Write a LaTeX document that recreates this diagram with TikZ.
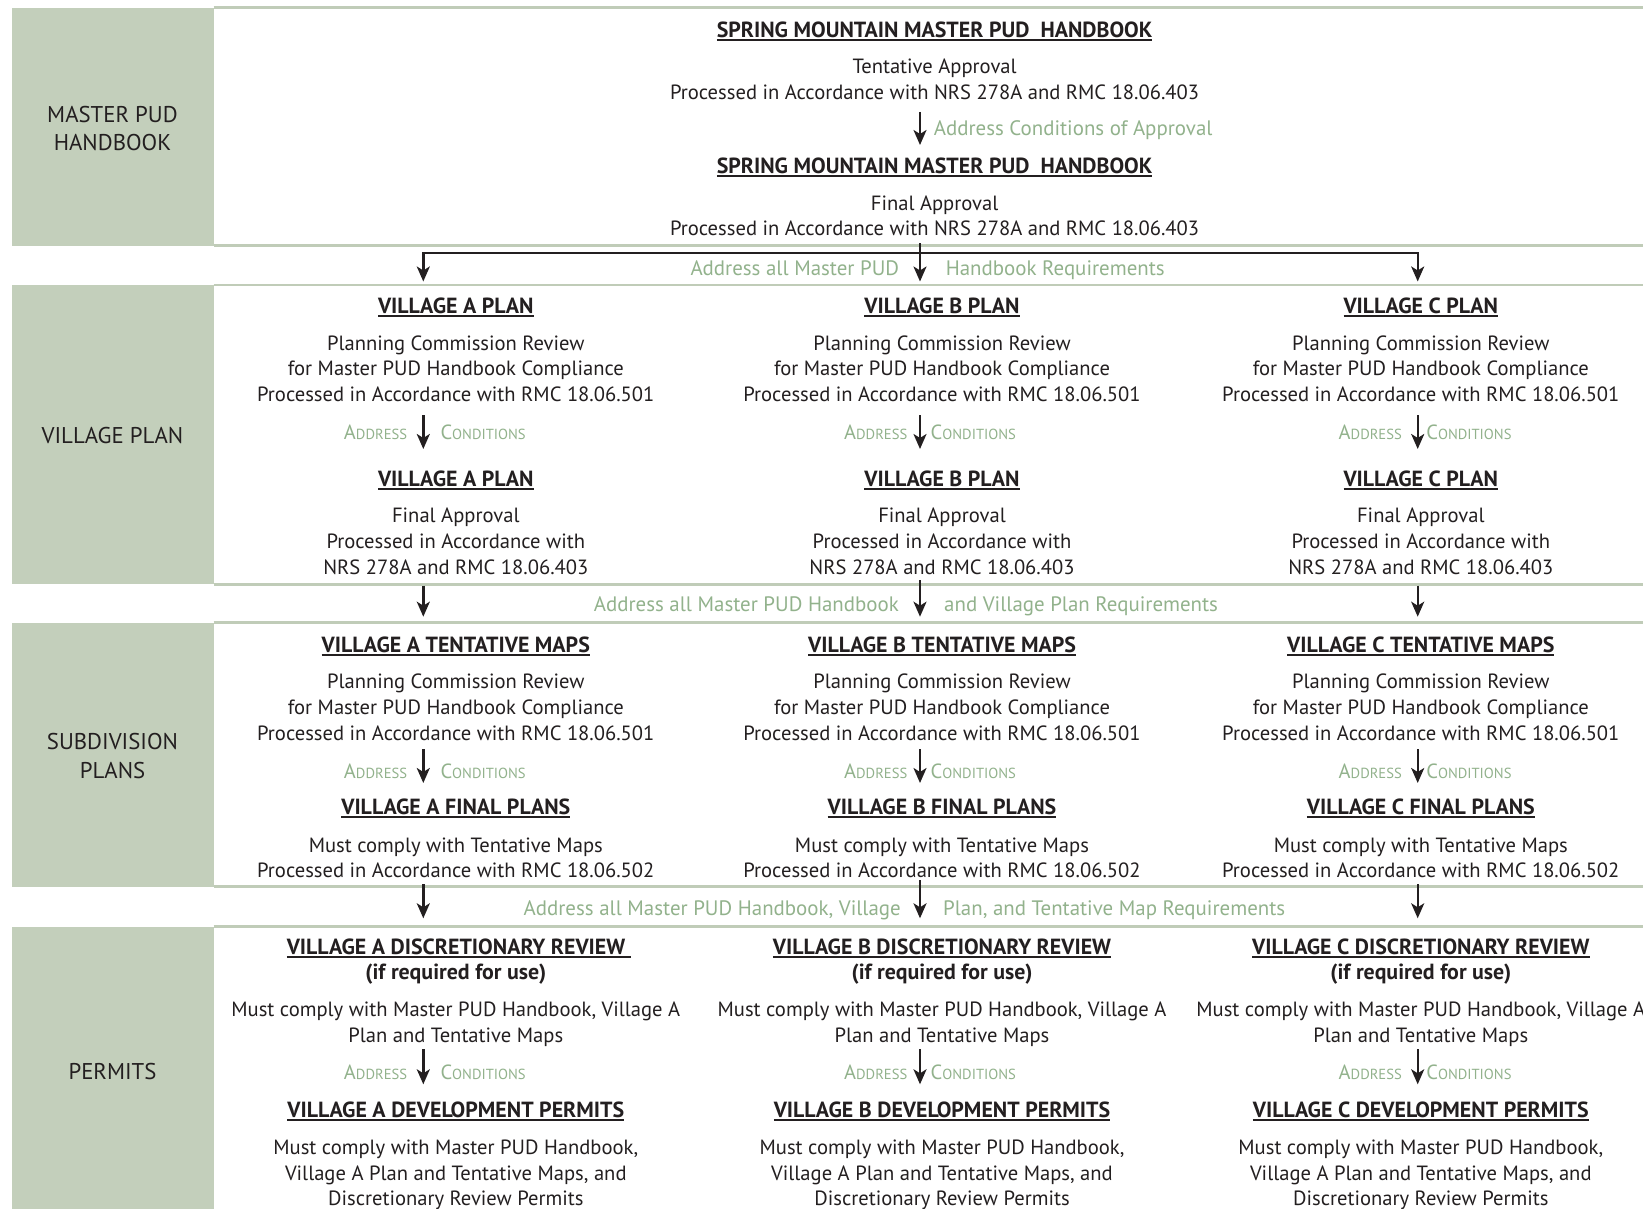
\documentclass[tikz,border=0pt]{standalone}
\usepackage{fontspec}
\setmainfont{PT Sans}
\usetikzlibrary{arrows.meta}
\definecolor{boxgray}{RGB}{195,207,187}
\definecolor{linegreen}{RGB}{192,204,184}
\definecolor{lblgreen}{RGB}{146,178,140}
\definecolor{txt}{RGB}{35,31,32}
\newcommand{\mysc}[2]{{\fontsize{20.5}{20.5}\selectfont #1}{\fontsize{14.6}{14.6}\selectfont #2}}
\newcommand{\myul}[1]{\setbox0\hbox{#1}\rlap{\rule[-3.4pt]{\wd0}{1.9pt}}\box0}
\tikzset{
  body/.style={text=txt, align=center, inner sep=0pt, font=\fontsize{20.6}{25.7}\selectfont},
  head/.style={text=txt, align=center, inner sep=0pt, font=\bfseries\fontsize{21.9}{25.7}\selectfont},
  lbl/.style={text=lblgreen, inner sep=0pt, font=\fontsize{20.9}{24}\selectfont},
  side/.style={fill=boxgray, inner sep=0pt, minimum width=201.5pt},
  sidetext/.style={text=txt, align=center, inner sep=0pt, font=\fontsize{22.8}{28.5}\selectfont},
  sep/.style={draw=linegreen, line width=2.8pt},
  arr/.style={draw=txt, line width=2.4pt, -{Stealth[length=15pt, width=13pt, inset=4pt]}},
}
\begin{document}
\begin{tikzpicture}[x=1pt,y=-1pt]
\useasboundingbox (0,0) rectangle (1643,1209);
\fill[white] (0,0) rectangle (1643,1209);
% side boxes
\node[side, minimum height=237.7pt] (side1) at (112.75,126.85) {};
\node[side, minimum height=299.3pt] (side2) at (112.75,434.65) {};
\node[side, minimum height=264pt] (side3) at (112.75,754.7) {};
\node[side, minimum height=282.3pt] (side4) at (112.75,1067.85) {};
\node[sidetext] (sidet1) at (112.5,128.5) {MASTER PUD\\HANDBOOK};
\node[sidetext] (sidet2) at (112.5,436) {VILLAGE PLAN};
\node[sidetext] (sidet3) at (112.5,756) {SUBDIVISION\\PLANS};
\node[sidetext] (sidet4) at (112.5,1072) {PERMITS};
% separator lines
\draw[sep] (213.5,7.3) -- (1643,7.3);
\draw[sep] (213.5,245.7) -- (1643,245.7);
\draw[sep] (213.5,285) -- (1643,285);
\draw[sep] (213.5,584.3) -- (1643,584.3);
\draw[sep] (213.5,622.7) -- (1643,622.7);
\draw[sep] (213.5,886.7) -- (1643,886.7);
\draw[sep] (213.5,926.7) -- (1643,926.7);
% section 1
\node[head] (h1) at (934.6,31) {\myul{SPRING MOUNTAIN MASTER PUD\ \ HANDBOOK}};
\node[body] (t1) at (934.6,79) {Tentative Approval\\Processed in Accordance with NRS 278A and RMC 18.06.403};
\coordinate (a1s) at (920,112);
\coordinate (a1e) at (920,145);
\draw[arr] (a1s) -- (a1e);
\node[lbl, anchor=base west] (l1) at (933.6,135.5) {Address Conditions of Approval};
\node[head] (h2) at (934.6,167) {\myul{SPRING MOUNTAIN MASTER PUD\ \ HANDBOOK}};
\node[body] (t2) at (934.6,215.7) {Final Approval\\Processed in Accordance with NRS 278A and RMC 18.06.403};
% band 1
\coordinate (b1l) at (423.3,253);
\coordinate (b1r) at (1417.7,253);
\coordinate (b1m) at (920,243);
\coordinate (t1A) at (423.3,281.5);
\coordinate (t1B) at (920,281.5);
\coordinate (t1C) at (1417.7,281.5);
\draw[arr] (b1l) -- (b1r) -- (t1C);
\draw[arr] (b1r) -- (b1l) -- (t1A);
\draw[arr] (b1m) -- (t1B);
\node[lbl, anchor=base east] (lb1a) at (899.3,275.5) {Address all Master PUD};
\node[lbl, anchor=base west] (lb1b) at (945.6,275.5) {Handbook Requirements};
% band labels
\node[lbl, anchor=base east] (lb2a) at (899,611.5) {Address all Master PUD Handbook};
\node[lbl, anchor=base west] (lb2b) at (944,611.5) {and Village Plan Requirements};
\node[lbl, anchor=base east] (lb3a) at (901,915.3) {Address all Master PUD Handbook, Village};
\node[lbl, anchor=base west] (lb3b) at (943,915.3) {Plan, and Tentative Map Requirements};
% columns
\foreach \c/\L/\ax/\ga/\gc/\sa/\sb in {455.8/A/423.3/16/17/585.7/884, 942/B/920/12.5/10.5/580/880, 1420.8/C/1417.7/15.7/8.4/585.7/884}{
  % village plan
  \node[head] (vp\L) at (\c,307.6) {\myul{VILLAGE \L\ PLAN}};
  \node[body] (vpr\L) at (\c,368.5) {Planning Commission Review\\for Master PUD Handbook Compliance\\Processed in Accordance with RMC 18.06.501};
  \coordinate (vpa\L) at (\ax,415);
  \coordinate (vpb\L) at (\ax,449);
  \draw[arr] (vpa\L) -- (vpb\L);
  \node[lbl, anchor=base east] (vpad\L) at (\ax-\ga,439.5) {\mysc{A}{DDRESS}};
  \node[lbl, anchor=base west] (vpco\L) at (\ax+\gc,439.5) {\mysc{C}{ONDITIONS}};
  \node[head] (vf\L) at (\c,480.4) {\myul{VILLAGE \L\ PLAN}};
  \node[body] (vfr\L) at (\c,541.3) {Final Approval\\Processed in Accordance with\\NRS 278A and RMC 18.06.403};
  % band 2
  \coordinate (b2a\L) at (\ax,\sa);
  \coordinate (b2b\L) at (\ax,616.7);
  \draw[arr] (b2a\L) -- (b2b\L);
  % subdivision
  \node[head] (tm\L) at (\c,646.5) {\myul{VILLAGE \L\ TENTATIVE MAPS}};
  \node[body] (tmr\L) at (\c,707.3) {Planning Commission Review\\for Master PUD Handbook Compliance\\Processed in Accordance with RMC 18.06.501};
  \coordinate (tma\L) at (\ax,749);
  \coordinate (tmb\L) at (\ax,783);
  \draw[arr] (tma\L) -- (tmb\L);
  \node[lbl, anchor=base east] (tmad\L) at (\ax-\ga,778) {\mysc{A}{DDRESS}};
  \node[lbl, anchor=base west] (tmco\L) at (\ax+\gc,778) {\mysc{C}{ONDITIONS}};
  \node[head] (fp\L) at (\c,808.4) {\myul{VILLAGE \L\ FINAL PLANS}};
  \node[body] (fpr\L) at (\c,857.8) {Must comply with Tentative Maps\\Processed in Accordance with RMC 18.06.502};
  % band 3
  \coordinate (b3a\L) at (\ax,\sb);
  \coordinate (b3b\L) at (\ax,918.3);
  \draw[arr] (b3a\L) -- (b3b\L);
  % permits
  \node[head] (dri\L) at (\c,974.5) {(if required for use)};
  \node[body] (drr\L) at (\c,1024.5) {Must comply with Master PUD Handbook, Village A\\Plan and Tentative Maps};
  \coordinate (dra\L) at (\ax,1049);
  \coordinate (drb\L) at (\ax,1084.3);
  \draw[arr] (dra\L) -- (drb\L);
  \node[lbl, anchor=base east] (drad\L) at (\ax-\ga,1079.3) {\mysc{A}{DDRESS}};
  \node[lbl, anchor=base west] (drco\L) at (\ax+\gc,1079.3) {\mysc{C}{ONDITIONS}};
  \node[head] (dp\L) at (\c,1111.4) {\myul{VILLAGE \L\ DEVELOPMENT PERMITS}};
  \node[body] (dpr\L) at (\c,1175) {Must comply with Master PUD Handbook,\\Village A Plan and Tentative Maps, and\\Discretionary Review Permits};
}
\node[head] (drA) at (458.8,948) {\myul{VILLAGE A DISCRETIONARY REVIEW\ }};
\node[head] (drB) at (942,948) {\myul{VILLAGE B DISCRETIONARY REVIEW}};
\node[head] (drC) at (1420.8,948) {\myul{VILLAGE C DISCRETIONARY REVIEW}};
\end{tikzpicture}
\end{document}
